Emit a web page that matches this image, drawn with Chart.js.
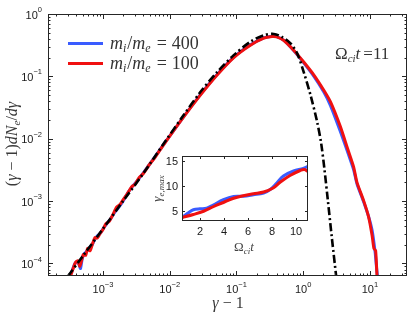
<!DOCTYPE html>
<html><head><meta charset="utf-8">
<script src="https://cdn.jsdelivr.net/npm/chart.js@4"></script>
<style>
html,body{margin:0;padding:0;background:#fff;}
#wrap{position:relative;width:415px;height:312px;overflow:hidden;}
#main{position:absolute;left:0;top:0;}
#inset{position:absolute;left:140px;top:145px;}
</style></head><body>
<div id="wrap"><canvas id="main" width="415" height="312"></canvas><canvas id="inset" width="175" height="110"></canvas></div>
<script>
// ---------- data ----------
const fitX = [3.0e-4, 5e-4, 1e-3, 2e-3, 4e-3, 8.1e-3, 0.0162, 0.0288, 0.0513, 0.0912, 0.162, 0.257, 0.363, 0.479, 0.646, 0.813, 1.02, 1.29, 1.62, 1.86, 2.09, 2.34, 2.69, 3.16];
const fitY = [6.3e-5, 1.32e-4, 3.6e-4, 1.0e-3, 2.75e-3, 8.3e-3, 0.024, 0.056, 0.117, 0.219, 0.359, 0.457, 0.479, 0.431, 0.339, 0.234, 0.117, 0.050, 0.0186, 0.0085, 3.16e-3, 1.05e-3, 2.6e-4, 5.6e-5];

const m100X = [3.3e-4, 3.6e-4, 3.9e-4, 4.2e-4, 4.5e-4, 4.8e-4, 5.1e-4, 5.5e-4, 5.9e-4, 6.4e-4, 7.0e-4, 7.6e-4, 8.2e-4, 9.0e-4, 1.0e-3, 1.1e-3, 1.25e-3, 1.4e-3, 1.6e-3, 1.8e-3, 2.0e-3, 2.3e-3, 2.7e-3, 3.0e-3, 3.5e-3, 4.0e-3, 5.0e-3, 6.0e-3, 8.1e-3, 0.0162, 0.0288, 0.0513, 0.0912, 0.162, 0.257, 0.34, 0.40, 0.51, 0.72, 1.02, 1.45, 2.04, 2.57, 3.6, 4.6, 5.7, 6.4, 8.1, 9.6, 10.8, 11.5, 12.2, 12.9];
const m100Y = [6.5e-5, 8.5e-5, 1.05e-4, 1.1e-4, 9.0e-5, 1.15e-4, 1.4e-4, 1.35e-4, 1.75e-4, 1.6e-4, 2.1e-4, 2.6e-4, 2.55e-4, 3.0e-4, 3.5e-4, 4.3e-4, 4.8e-4, 6.0e-4, 8.0e-4, 8.8e-4, 1.05e-3, 1.3e-3, 1.7e-3, 1.85e-3, 2.4e-3, 2.75e-3, 3.9e-3, 5.0e-3, 8.0e-3, 0.0224, 0.050, 0.105, 0.20, 0.316, 0.41, 0.435, 0.43, 0.38, 0.263, 0.17, 0.105, 0.060, 0.039, 0.0158, 7.1e-3, 3.55e-3, 2.0e-3, 1.0e-3, 5.5e-4, 2.8e-4, 1.74e-4, 1.6e-4, 5.0e-5];

const m400X = [3.2e-4, 3.5e-4, 3.8e-4, 4.1e-4, 4.4e-4, 4.6e-4, 4.9e-4, 5.3e-4, 5.8e-4, 6.3e-4, 6.9e-4, 7.5e-4, 8.3e-4, 9.2e-4, 1.0e-3, 1.15e-3, 1.3e-3, 1.5e-3, 1.7e-3, 2.0e-3, 2.4e-3, 2.8e-3, 3.3e-3, 4.0e-3, 5.0e-3, 6.0e-3, 8.1e-3, 0.0162, 0.0288, 0.0513, 0.0912, 0.162, 0.257, 0.34, 0.40, 0.51, 0.72, 1.02, 1.45, 2.04, 2.57, 3.6, 4.6, 5.7, 6.4, 8.1, 9.6, 10.8, 12.0, 12.6, 13.6];
const m400Y = [6.3e-5, 8.0e-5, 1.0e-4, 1.08e-4, 9.5e-5, 8.3e-5, 1.2e-4, 1.45e-4, 1.6e-4, 1.8e-4, 2.0e-4, 2.4e-4, 2.8e-4, 3.1e-4, 3.6e-4, 4.4e-4, 5.2e-4, 6.6e-4, 7.8e-4, 1.0e-3, 1.4e-3, 1.75e-3, 2.15e-3, 2.8e-3, 3.9e-3, 5.1e-3, 8.1e-3, 0.0226, 0.051, 0.107, 0.203, 0.32, 0.415, 0.44, 0.435, 0.38, 0.26, 0.165, 0.10, 0.056, 0.034, 0.0132, 6.3e-3, 3.2e-3, 1.9e-3, 9.6e-4, 5.6e-4, 3.4e-4, 1.5e-4, 8.5e-5, 4.0e-5];

const insetT400 = [0.5, 1.0, 1.45, 2.0, 2.55, 3.1, 3.95, 4.8, 5.6, 6.45, 7.3, 7.85, 8.4, 8.95, 9.8, 10.6, 11.0];
const insetG400 = [3.7, 4.6, 5.25, 5.45, 5.55, 6.2, 7.25, 7.9, 7.95, 8.25, 8.6, 9.3, 10.6, 12.0, 13.0, 13.5, 13.9];
const insetT100 = [0.5, 1.45, 2.3, 3.1, 3.95, 4.8, 5.6, 6.45, 7.3, 8.1, 8.7, 9.5, 10.35, 10.7, 11.0];
const insetG100 = [3.7, 4.3, 4.95, 5.85, 6.7, 7.55, 8.05, 8.45, 8.8, 9.6, 10.8, 12.1, 13.1, 13.3, 12.9];

const xTickExps = [-3, -2, -1, 0, 1];
const yTickExps = [-4, -3, -2, -1, 0];
const insetXTicks = [2, 4, 6, 8, 10];
const insetYTicks = [5, 10, 15];
const seriesNames = ['m_i/m_e = 400', 'm_i/m_e = 100', 'fit'];
const seriesValues = ['400', '100'];
const timeLabel = '11';

// ---------- helpers ----------
const SANS = '"Liberation Sans", Arial, sans-serif';
const SERIF = '"Liberation Serif", "DejaVu Serif", serif';
const BLUE = '#3a5cff';
const RED = '#f01010';
const pts = (xs, ys) => xs.map((x, i) => ({x: x, y: ys[i]}));

function rich(ctx, pieces, x, y, align) {
  let w = 0;
  const ws = pieces.map(p => { ctx.font = (p.it ? 'italic ' : '') + p.s + 'px ' + SERIF; const m = ctx.measureText(p.t).width + (p.gap || 0); w += m; return m; });
  let cx = align === 'center' ? x - w / 2 : x;
  ctx.textBaseline = 'alphabetic';
  ctx.textAlign = 'left';
  pieces.forEach((p, i) => {
    ctx.font = (p.it ? 'italic ' : '') + p.s + 'px ' + SERIF;
    ctx.fillText(p.t, cx + (p.pre || 0), y + (p.dy || 0));
    cx += ws[i];
  });
}
function pow10(ctx, e, x, y, align) {
  const sup = (e < 0 ? '\u2212' : '') + Math.abs(e);
  ctx.font = '11px ' + SANS; const wb = ctx.measureText('10').width;
  ctx.font = '7.5px ' + SANS; const ws = ctx.measureText(sup).width;
  const tot = wb + ws;
  let l = align === 'center' ? x - tot / 2 : (align === 'right' ? x - tot : x);
  ctx.textAlign = 'left'; ctx.textBaseline = 'middle';
  ctx.font = '11px ' + SANS; ctx.fillText('10', l, y);
  ctx.font = '7.5px ' + SANS; ctx.fillText(sup, l + wb, y - 5.5);
}
function logMinor(min, max) {
  const out = [];
  for (let d = Math.floor(Math.log10(min)); d <= Math.ceil(Math.log10(max)); d++) {
    for (let m = 1; m <= 9; m++) { const v = m * Math.pow(10, d); if (v >= min && v <= max) out.push({v: v, major: m === 1}); }
  }
  return out;
}

// ---------- main chart ----------
const mainAxes = {
  id: 'mainAxes',
  afterDraw(chart) {
    const ctx = chart.ctx, a = chart.chartArea, xs = chart.scales.x, ys = chart.scales.y;
    ctx.save();
    ctx.strokeStyle = '#262626'; ctx.lineWidth = 1;
    ctx.strokeRect(a.left + 0.5, a.top + 0.5, a.right - a.left - 1, a.bottom - a.top - 1);
    ctx.beginPath();
    logMinor(xs.min, xs.max).forEach(t => {
      const px = Math.round(xs.getPixelForValue(t.v)) + 0.5, L = t.major ? 5 : 2.5;
      ctx.moveTo(px, a.bottom); ctx.lineTo(px, a.bottom - L);
      ctx.moveTo(px, a.top); ctx.lineTo(px, a.top + L);
    });
    logMinor(ys.min, ys.max).forEach(t => {
      const py = Math.round(ys.getPixelForValue(t.v)) + 0.5, L = t.major ? 5 : 2.5;
      ctx.moveTo(a.left, py); ctx.lineTo(a.left + L, py);
      ctx.moveTo(a.right, py); ctx.lineTo(a.right - L, py);
    });
    ctx.stroke();
    ctx.fillStyle = '#1a1a1a';
    xTickExps.forEach(e => pow10(ctx, e, xs.getPixelForValue(Math.pow(10, e)), a.bottom + 14, 'center'));
    yTickExps.forEach(e => pow10(ctx, e, a.left - 6, ys.getPixelForValue(Math.pow(10, e)) + 1.5, 'right'));
    // axis titles
    ctx.fillStyle = '#3a3a3a';
    rich(ctx, [{t: '\u03b3', it: 1, s: 16}, {t: ' \u2212 1', s: 16}], 228, 308, 'center');
    ctx.save();
    ctx.translate(17, (a.top + a.bottom) / 2 - 1);
    ctx.rotate(-Math.PI / 2);
    rich(ctx, [{t: '(', s: 16}, {t: '\u03b3', it: 1, s: 16}, {t: ' \u2212 1)', s: 16}, {t: 'dN', it: 1, s: 16}, {t: 'e', it: 1, s: 11, dy: 3}, {t: '/', s: 16}, {t: 'd\u03b3', it: 1, s: 16}], 0, 0, 'center');
    ctx.restore();
    // legend
    [[BLUE, 43.5, seriesValues[0]], [RED, 63.5, seriesValues[1]]].forEach(([c, y, v]) => {
      ctx.strokeStyle = c; ctx.lineWidth = 3;
      ctx.beginPath(); ctx.moveTo(68, y); ctx.lineTo(103, y); ctx.stroke();
      ctx.fillStyle = '#333';
      rich(ctx, [{t: 'm', it: 1, s: 18}, {t: 'i', it: 1, s: 12, dy: 3, gap: 1}, {t: '/', s: 18}, {t: 'm', it: 1, s: 18}, {t: 'e', it: 1, s: 12, dy: 3, gap: 1}, {t: '=', s: 18, pre: 5, gap: 10}, {t: v, s: 18, gap: 0}], 110, y + 5.5, 'left');
    });
    // time annotation
    ctx.fillStyle = '#333';
    rich(ctx, [{t: '\u03a9', s: 17}, {t: 'ci', it: 1, s: 11, dy: 3}, {t: 't', it: 1, s: 17, gap: 3}, {t: '=' + timeLabel, s: 17}], 335, 58.5, 'left');
    ctx.restore();
  }
};

new Chart(document.getElementById('main'), {
  type: 'line',
  data: {
    datasets: [
      {label: seriesNames[2], data: pts(fitX, fitY), borderColor: '#000', borderWidth: 2.6, borderDash: [8, 3, 2, 3], pointRadius: 0, tension: 0.3, order: 0},
      {label: seriesNames[1], data: pts(m100X, m100Y), borderColor: RED, borderWidth: 3, pointRadius: 0, tension: 0.2, order: 1},
      {label: seriesNames[0], data: pts(m400X, m400Y), borderColor: BLUE, borderWidth: 3, pointRadius: 0, tension: 0.2, order: 2}
    ]
  },
  options: {
    responsive: false, animation: false, devicePixelRatio: 1,
    layout: {padding: {left: 48, right: 8, top: 14, bottom: 36}},
    plugins: {legend: {display: false}, tooltip: {enabled: false}},
    scales: {
      x: {type: 'logarithmic', min: 1.5e-4, max: 36, display: false},
      y: {type: 'logarithmic', min: 6.3e-5, max: 1, display: false}
    }
  },
  plugins: [mainAxes]
});

// ---------- inset chart ----------
const insetAxes = {
  id: 'insetAxes',
  beforeDatasetsDraw(chart) {
    const ctx = chart.ctx, a = chart.chartArea;
    ctx.save(); ctx.fillStyle = '#fff'; ctx.fillRect(a.left, a.top, a.right - a.left, a.bottom - a.top); ctx.restore();
  },
  afterDraw(chart) {
    const ctx = chart.ctx, a = chart.chartArea, xs = chart.scales.x, ys = chart.scales.y;
    ctx.save();
    ctx.strokeStyle = '#262626'; ctx.lineWidth = 1;
    ctx.strokeRect(a.left + 0.5, a.top + 0.5, a.right - a.left - 1, a.bottom - a.top - 1);
    ctx.beginPath();
    insetXTicks.forEach(v => { const px = Math.round(xs.getPixelForValue(v)) + 0.5; ctx.moveTo(px, a.bottom); ctx.lineTo(px, a.bottom - 3); ctx.moveTo(px, a.top); ctx.lineTo(px, a.top + 3); });
    insetYTicks.forEach(v => { const py = Math.round(ys.getPixelForValue(v)) + 0.5; ctx.moveTo(a.left, py); ctx.lineTo(a.left + 3, py); ctx.moveTo(a.right, py); ctx.lineTo(a.right - 3, py); });
    ctx.stroke();
    ctx.fillStyle = '#1a1a1a'; ctx.font = '11px ' + SANS;
    ctx.textAlign = 'center'; ctx.textBaseline = 'middle';
    insetXTicks.forEach(v => ctx.fillText(String(v), xs.getPixelForValue(v), a.bottom + 11));
    ctx.textAlign = 'right';
    insetYTicks.forEach(v => ctx.fillText(String(v), a.left - 4, ys.getPixelForValue(v) + 0.5));
    ctx.fillStyle = '#444';
    rich(ctx, [{t: '\u03a9', s: 13}, {t: 'ci', it: 1, s: 9, dy: 3}, {t: 't', it: 1, s: 13}], (a.left + a.right) / 2 - 1, a.bottom + 30, 'center');
    ctx.save();
    ctx.translate(21, (a.top + a.bottom) / 2);
    ctx.rotate(-Math.PI / 2);
    rich(ctx, [{t: '\u03b3', it: 1, s: 13}, {t: 'e,max', it: 1, s: 9, dy: 3}], 0, 0, 'center');
    ctx.restore();
    ctx.restore();
  }
};

new Chart(document.getElementById('inset'), {
  type: 'line',
  data: {
    datasets: [
      {label: seriesNames[1], data: pts(insetT100, insetG100), borderColor: RED, borderWidth: 3, pointRadius: 0, tension: 0.35, order: 1},
      {label: seriesNames[0], data: pts(insetT400, insetG400), borderColor: BLUE, borderWidth: 3, pointRadius: 0, tension: 0.35, order: 2}
    ]
  },
  options: {
    responsive: false, animation: false, devicePixelRatio: 1,
    layout: {padding: {left: 42, right: 7, top: 11, bottom: 34}},
    plugins: {legend: {display: false}, tooltip: {enabled: false}},
    scales: {
      x: {type: 'linear', min: 0.5, max: 11, display: false},
      y: {type: 'linear', min: 3, max: 16, display: false}
    }
  },
  plugins: [insetAxes]
});
</script>
</body></html>
